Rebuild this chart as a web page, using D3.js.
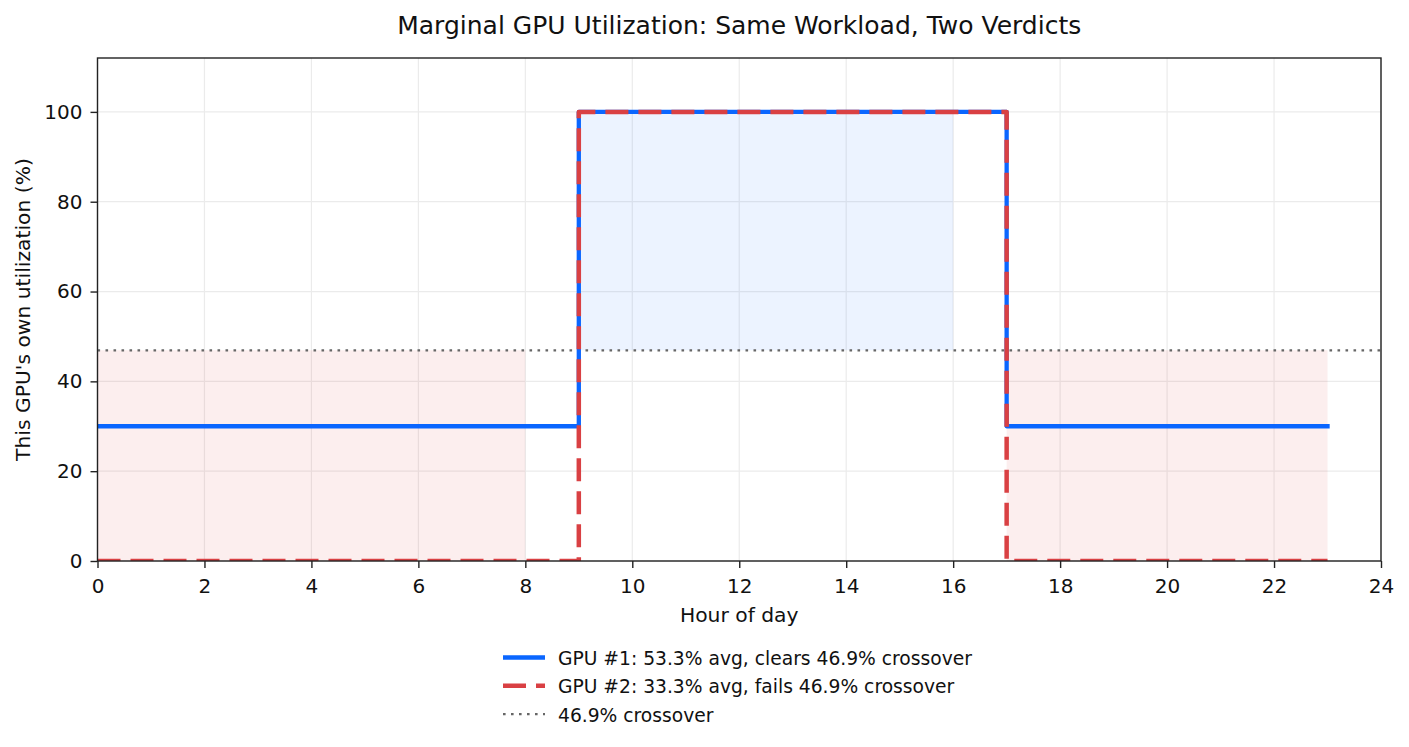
<!DOCTYPE html>
<html>
<head>
<meta charset="utf-8">
<script src="https://cdn.jsdelivr.net/npm/d3@7"></script>
<style>
  body { margin: 0; background: #fff; }
  svg { font-family: "DejaVu Sans", sans-serif; }
</style>
</head>
<body>
<svg id="chart" width="1409" height="747"></svg>
<script>
// hourly samples, step "post"
const hours = d3.range(0, 24);
const gpu1 = [30,30,30,30,30,30,30,30,30,100,100,100,100,100,100,100,100,30,30,30,30,30,30,30];
const gpu2 = [0,0,0,0,0,0,0,0,0,100,100,100,100,100,100,100,100,0,0,0,0,0,0,0];
const crossover = 46.9;
const xTicks = d3.range(0, 25, 2);
const yTicks = [0, 20, 40, 60, 80, 100];
const legendLabels = [
  "GPU #1: 53.3% avg, clears 46.9% crossover",
  "GPU #2: 33.3% avg, fails 46.9% crossover",
  "46.9% crossover"
];

const blue = "#0a66ff", red = "#d94043", grey = "#666666";

const margin = { top: 58, right: 28, bottom: 186, left: 97.5 },
    W = 1409, H = 747,
    w = W - margin.left - margin.right,
    h = H - margin.top - margin.bottom;

const svg = d3.select("#chart");

const xScale = d3.scaleLinear().domain([0, 24]).range([margin.left, margin.left + w]);
const yScale = d3.scaleLinear().domain([0, 112]).range([margin.top + h, margin.top]);

svg.append("defs").append("clipPath").attr("id", "plot-clip")
  .append("rect")
    .attr("x", margin.left).attr("y", margin.top).attr("width", w).attr("height", h);

// grid
const grid = svg.append("g").attr("stroke", "#ebebeb").attr("stroke-width", 1.2);
grid.selectAll(".gx").data(xTicks).enter().append("line")
    .attr("x1", d => xScale(d)).attr("x2", d => xScale(d))
    .attr("y1", margin.top).attr("y2", margin.top + h);
grid.selectAll(".gy").data(yTicks).enter().append("line")
    .attr("y1", d => yScale(d)).attr("y2", d => yScale(d))
    .attr("x1", margin.left).attr("x2", margin.left + w);

const plot = svg.append("g").attr("clip-path", "url(#plot-clip)");

// fills between series and crossover
const pts1 = hours.map((t, i) => ({ t, v: gpu1[i] }));
const pts2 = hours.map((t, i) => ({ t, v: gpu2[i] }));
const area = d3.area()
    .defined(d => d.on)
    .x(d => xScale(d.t))
    .y0(yScale(crossover))
    .y1(d => yScale(d.v));

plot.append("path")
    .datum(pts1.map(d => ({ ...d, on: d.v > crossover })))
    .attr("d", area)
    .attr("fill", blue).attr("fill-opacity", 0.08);
plot.append("path")
    .datum(pts2.map(d => ({ ...d, on: d.v < crossover })))
    .attr("d", area)
    .attr("fill", red).attr("fill-opacity", 0.09);

// crossover line
plot.append("line")
    .attr("x1", margin.left).attr("x2", margin.left + w)
    .attr("y1", yScale(crossover)).attr("y2", yScale(crossover))
    .attr("stroke", grey).attr("stroke-width", 2.4).attr("stroke-dasharray", "2.6,5.4");

const step = d3.line().curve(d3.curveStepAfter).x(d => xScale(d.t)).y(d => yScale(d.v));

plot.append("path").datum(pts1).attr("d", step)
    .attr("fill", "none").attr("stroke", blue).attr("stroke-width", 4.3)
    .attr("stroke-linecap", "square").attr("stroke-linejoin", "round");
plot.append("path").datum(pts2).attr("d", step)
    .attr("fill", "none").attr("stroke", red).attr("stroke-width", 4.5)
    .attr("stroke-linejoin", "round")
    .attr("stroke-dasharray", "23,10");

// frame
svg.append("rect")
    .attr("x", margin.left).attr("y", margin.top).attr("width", w).attr("height", h)
    .attr("fill", "none").attr("stroke", "#222").attr("stroke-width", 1.4);

// axes
const xAxis = svg.append("g")
    .attr("transform", `translate(0, ${margin.top + h})`)
    .call(d3.axisBottom(xScale).tickValues(xTicks).tickSize(7).tickPadding(10.5));
const yAxis = svg.append("g")
    .attr("transform", `translate(${margin.left}, 0)`)
    .call(d3.axisLeft(yScale).tickValues(yTicks).tickSize(7).tickPadding(8));
[xAxis, yAxis].forEach(a => {
  a.select(".domain").remove();
  a.selectAll("line").attr("stroke", "#222").attr("stroke-width", 1.4);
  a.selectAll("text").attr("font-size", 20).attr("fill", "#111")
    .attr("font-family", "DejaVu Sans");
});

// labels
svg.append("text")
    .attr("x", xScale(12)).attr("y", 622)
    .attr("text-anchor", "middle").attr("font-size", 20.3).attr("fill", "#111")
    .text("Hour of day");
svg.append("text")
    .attr("transform", `translate(30, ${yScale(56)}) rotate(-90)`)
    .attr("text-anchor", "middle").attr("font-size", 20.3).attr("fill", "#111")
    .text("This GPU's own utilization (%)");
svg.append("text")
    .attr("x", xScale(12)).attr("y", 34)
    .attr("text-anchor", "middle").attr("font-size", 25).attr("fill", "#111")
    .text("Marginal GPU Utilization: Same Workload, Two Verdicts");

// legend
const styles = [
  { color: blue, width: 4.3, dash: null },
  { color: red, width: 4.5, dash: "23,10" },
  { color: grey, width: 2.4, dash: "2.6,5.4" }
];
const legend = svg.append("g").attr("transform", "translate(503, 657.5)");
const rows = legend.selectAll("g").data(legendLabels).enter().append("g")
    .attr("transform", (d, i) => `translate(0, ${i * 28.3})`);
rows.append("line")
    .attr("x1", 0).attr("x2", 42).attr("y1", 0).attr("y2", 0)
    .attr("stroke", (d, i) => styles[i].color)
    .attr("stroke-width", (d, i) => styles[i].width)
    .attr("stroke-dasharray", (d, i) => styles[i].dash);
rows.append("text")
    .attr("x", 55).attr("y", 7.5)
    .attr("font-size", 18.7).attr("fill", "#111")
    .text(d => d);
</script>
</body>
</html>
